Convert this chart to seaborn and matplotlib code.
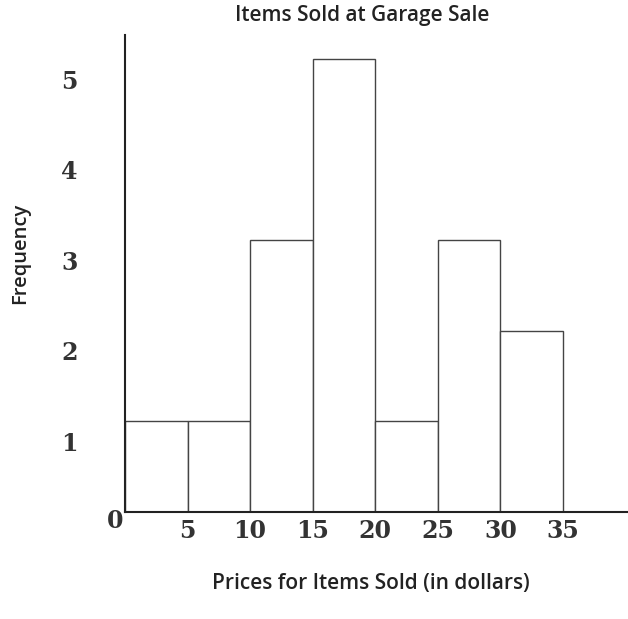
import numpy as np
import matplotlib
matplotlib.use("Agg")
import matplotlib.pyplot as plt
import matplotlib.transforms as mtransforms
import seaborn as sns

# price bins (dollars) and how many items fell in each
bin_edges = [0, 5, 10, 15, 20, 25, 30, 35]
counts = [1, 1, 3, 5, 1, 3, 2]
x_ticks = [5, 10, 15, 20, 25, 30, 35]
y_ticks = [1, 2, 3, 4, 5]

sns.set_style("white")

fig = plt.figure(figsize=(6.28, 6.19), dpi=100)
ax = fig.add_axes([0.199, 0.173, 0.801, 0.771])

mids = [(a + b) / 2 for a, b in zip(bin_edges[:-1], bin_edges[1:])]
sns.histplot(x=mids, weights=counts, bins=bin_edges, ax=ax,
             color="white", edgecolor="#444444", linewidth=1.0, alpha=1)

ax.set_xlim(0, 40.2)
ax.set_ylim(0, 5.27)

# only left/bottom axis lines
sns.despine(ax=ax)
for s in ["left", "bottom"]:
    ax.spines[s].set_color("#222222")
    ax.spines[s].set_linewidth(1.5)

tick_font = dict(family="DejaVu Serif", size=17, weight="bold", color="#333333")
ax.set_xticks(x_ticks)
ax.set_xticklabels([str(t) for t in x_ticks], fontdict=tick_font)
ax.set_yticks(y_ticks)
ax.set_yticklabels([str(t) for t in y_ticks], fontdict=tick_font)
ax.tick_params(axis="x", length=0, pad=5)
ax.tick_params(axis="y", length=0, pad=34)
# the scanned y labels sit a bit lower than their gridline
shift = mtransforms.ScaledTranslation(0, -0.2, fig.dpi_scale_trans)
for lbl in ax.get_yticklabels():
    lbl.set_transform(lbl.get_transform() + shift)
ax.set_xlabel("")
ax.set_ylabel("")

# the lone 0 at the corner
fig.text(115 / 628, 1 - 521 / 619, "0", ha="center", va="center", **tick_font)

lab_font = dict(family="Open Sans", weight="semibold", color="#222222")
fig.text(362 / 628, 1 - 15 / 619, "Items Sold at Garage Sale",
         ha="center", va="center", size=15, **lab_font)
fig.text(371 / 628, 1 - 583 / 619, "Prices for Items Sold (in dollars)",
         ha="center", va="center", size=15, **lab_font)
fig.text(20 / 628, 1 - 253 / 619, "Frequency", rotation=90,
         ha="center", va="center", size=14.5, **lab_font)

fig.savefig("out.png", dpi=100, facecolor="white")
